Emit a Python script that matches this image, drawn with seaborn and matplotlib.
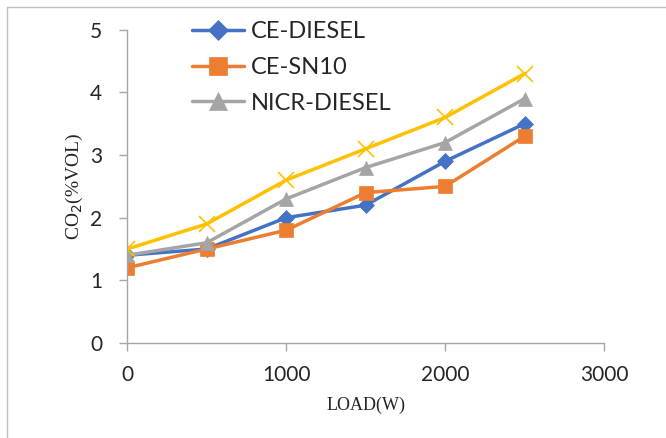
import matplotlib
matplotlib.use("Agg")
import matplotlib.pyplot as plt
import seaborn as sns
import pandas as pd
from matplotlib.lines import Line2D

load = [0, 500, 1000, 1500, 2000, 2500]
ce_diesel = [1.4, 1.5, 2.0, 2.2, 2.9, 3.5]
ce_sn10 = [1.2, 1.5, 1.8, 2.4, 2.5, 3.3]
nicr_diesel = [1.4, 1.6, 2.3, 2.8, 3.2, 3.9]
fourth = [1.5, 1.9, 2.6, 3.1, 3.6, 4.3]

series = [
    ("CE-DIESEL", ce_diesel, "#4472C4", "D", 8, True),
    ("CE-SN10", ce_sn10, "#ED7D31", "s", 10, True),
    ("NICR-DIESEL", nicr_diesel, "#A5A5A5", "^", 10, True),
    ("_series4", fourth, "#FFC000", "x", 11, False),
]

sns.set_theme(style="white")
plt.rcParams['font.family'] = ['Lato', 'DejaVu Sans']

fig = plt.figure(figsize=(6.66, 4.38), dpi=100)
ax = fig.add_axes([0.191, 0.217, 0.716, 0.715])

for name, vals, col, mk, ms, inleg in series:
    df = pd.DataFrame({"x": load, "y": vals})
    sns.lineplot(data=df, x="x", y="y", ax=ax, color=col, marker=mk,
                 markersize=ms, linewidth=2.5, markeredgecolor=col,
                 markeredgewidth=1.2 if mk == "x" else 0.5,
                 label=name if inleg else None, legend=False)

ax.set_xlim(0, 3000)
ax.set_ylim(0, 5)
ax.set_xticks([0, 1000, 2000, 3000])
ax.set_yticks([0, 1, 2, 3, 4, 5])
ax.tick_params(axis='both', which='both', direction='out', length=6,
               width=1, color='#A6A6A6', labelsize=15, pad=12, left=True, bottom=True)
ax.tick_params(axis='x', pad=10)
for s in ['top', 'right']:
    ax.spines[s].set_visible(False)
for s in ['left', 'bottom']:
    ax.spines[s].set_color('#A6A6A6')
    ax.spines[s].set_linewidth(1)

ax.set_xlabel("LOAD(W)", fontfamily="Liberation Serif", fontsize=13, labelpad=8)
ax.set_ylabel("CO$_2$(%VOL)", fontfamily="Liberation Serif", fontsize=14, labelpad=4)

h, l = ax.get_legend_handles_labels()
leg = fig.legend(h, l, loc="upper left", bbox_to_anchor=(0.256, 1.0), frameon=False,
                 fontsize=17, handlelength=2.2, labelspacing=0.62, handletextpad=0.3,
                 markerscale=1.3)

fig.add_artist(Line2D([0.0105, 0.0105], [0.0, 0.984], transform=fig.transFigure,
                      color='#BFBFBF', linewidth=1))
fig.add_artist(Line2D([0.0105, 1.0], [0.984, 0.984], transform=fig.transFigure,
                      color='#BFBFBF', linewidth=1))

fig.savefig("out.png", dpi=100)
